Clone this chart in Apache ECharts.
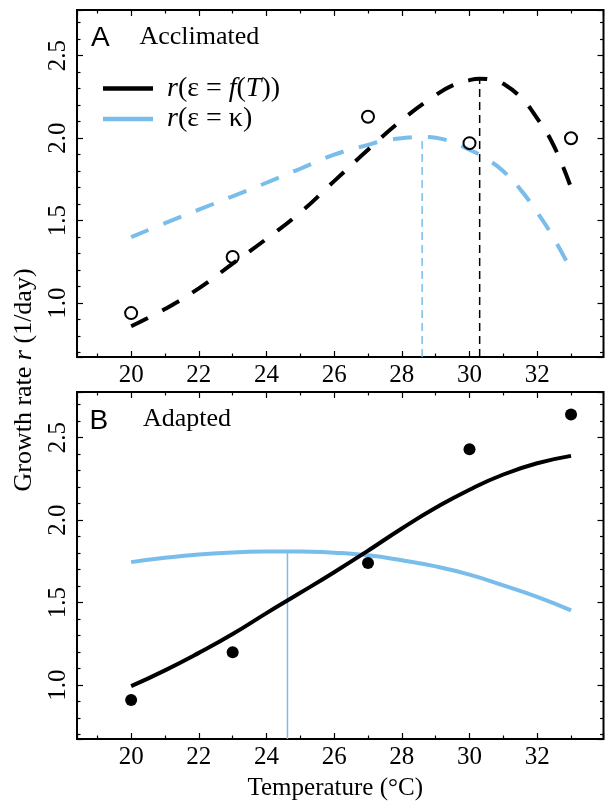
<!DOCTYPE html>
<html>
<head>
<meta charset="utf-8">
<script src="https://cdn.jsdelivr.net/npm/echarts@6/dist/echarts.min.js"></script>
<style>
  html, body { margin: 0; padding: 0; background: #fff; }
  #chart { width: 605px; height: 806px; }
</style>
</head>
<body>
<div id="chart"></div>
<script>
// Axis ranges shared by both panels
const tempRange = [18.4, 33.96];
const rateRange = [0.674, 2.777];

// Measured growth rates at the five culture temperatures
const obsTemps = [20, 23, 27, 30, 33];
const acclimatedObs = [0.94, 1.28, 2.13, 1.97, 2.00];
const adaptedObs = [0.91, 1.20, 1.74, 2.43, 2.64];

// Panel A: acclimated model curves
const accFTTemps = [20, 21, 22, 23, 24, 25, 26, 27, 28, 29, 29.5, 30, 30.3, 30.7, 31, 31.5, 32, 32.5, 33];
const accFTRates = [0.86, 0.965, 1.09, 1.24, 1.39, 1.55, 1.74, 1.93, 2.11, 2.26, 2.32, 2.352, 2.36, 2.352, 2.33, 2.25, 2.12, 1.95, 1.70];
const accKappaTemps = [20, 21, 22, 23, 24, 25, 26, 27, 27.5, 28, 28.6, 29.3, 30, 30.5, 31, 31.5, 32, 32.5, 33];
const accKappaRates = [1.40, 1.485, 1.567, 1.648, 1.73, 1.815, 1.90, 1.96, 1.985, 2.0, 2.007, 1.99, 1.93, 1.875, 1.80, 1.69, 1.55, 1.39, 1.20];
const accFTPeak = [30.3, 2.36];
const accKappaPeak = [28.6, 2.007];

// Panel B: adapted model curves
const adaFTTemps = [20, 21, 22, 23, 24, 25, 26, 27, 28, 29, 30, 31, 32, 33];
const adaFTRates = [0.994, 1.09, 1.196, 1.31, 1.437, 1.56, 1.685, 1.815, 1.95, 2.075, 2.185, 2.277, 2.345, 2.39];
const adaKappaTemps = [20, 21, 22, 23, 24, 24.62, 25, 26, 27, 28, 29, 30, 31, 32, 33];
const adaKappaRates = [1.746, 1.772, 1.792, 1.804, 1.81, 1.811, 1.81, 1.803, 1.787, 1.757, 1.72, 1.67, 1.605, 1.535, 1.454];
const adaKappaPeak = [24.62, 1.811];

const seriesNames = ['r(ε = f(T))', 'r(ε = κ)'];
const legendRich = {
  'r(ε = f(T))': '{i|r}(ε = {i|f}({i|T}))',
  'r(ε = κ)': '{i|r}(ε = κ)'
};

const SERIF = 'Liberation Serif';
const SANS = 'Liberation Sans';
const BLUE = '#79bdea';

const zip = (xs, ys) => xs.map((x, i) => [x, ys[i]]);
const dropLine = peak => [[peak[0], rateRange[0]], [peak[0], peak[1]]];

const tickStyle = { color: '#000', width: 1.2 };

function xAxisFor(grid, position, labels, name) {
  return {
    type: 'value', gridIndex: grid, position: position,
    min: tempRange[0], max: tempRange[1], splitNumber: 8,
    axisLine: { show: false },
    axisTick: { show: true, inside: true, length: 6, lineStyle: tickStyle },
    minorTick: { show: true, splitNumber: 2, length: 3.5, lineStyle: tickStyle },
    splitLine: { show: false }, minorSplitLine: { show: false },
    axisLabel: {
      show: labels, showMinLabel: false, showMaxLabel: false, margin: 6,
      color: '#000', fontFamily: SERIF, fontSize: 25
    },
    name: name || '', nameLocation: 'middle', nameGap: 37,
    nameTextStyle: { color: '#000', fontFamily: SERIF, fontSize: 25, padding: [0, 10, 0, 0] }
  };
}

function yAxisFor(grid, position, labels) {
  return {
    type: 'value', gridIndex: grid, position: position,
    min: rateRange[0], max: rateRange[1], splitNumber: 5,
    axisLine: { show: false },
    axisTick: { show: true, inside: true, length: 6, lineStyle: tickStyle },
    minorTick: { show: true, splitNumber: 5, length: 3.5, lineStyle: tickStyle },
    splitLine: { show: false }, minorSplitLine: { show: false },
    axisLabel: {
      show: labels, showMinLabel: false, showMaxLabel: false, margin: 6, rotate: 90,
      color: '#000', fontFamily: SERIF, fontSize: 25,
      formatter: v => v.toFixed(1)
    }
  };
}

function curve(name, xi, yi, temps, rates, color, dashed) {
  return {
    type: 'line', name: name, xAxisIndex: xi, yAxisIndex: yi,
    data: zip(temps, rates), showSymbol: false, smooth: 0.5,
    lineStyle: { color: color, width: 4, type: dashed ? [19, 16] : 'solid', cap: 'butt' },
    itemStyle: { color: color }, z: 3, silent: true
  };
}

function peakLine(xi, yi, peak, color, dashed) {
  return {
    type: 'line', xAxisIndex: xi, yAxisIndex: yi, data: dropLine(peak),
    showSymbol: false, lineStyle: { color: color, width: 1.5, type: dashed ? [8, 5] : 'solid' },
    z: 2, silent: true
  };
}

const chart = echarts.init(document.getElementById('chart'), null, { renderer: 'canvas' });

chart.setOption({
  animation: false,
  backgroundColor: '#fff',
  grid: [
    { left: 77, right: 1.5, top: 10, height: 347, show: true, borderColor: '#000', borderWidth: 2, outerBoundsMode: 'none' },
    { left: 77, right: 1.5, top: 392, height: 347, show: true, borderColor: '#000', borderWidth: 2, outerBoundsMode: 'none' }
  ],
  xAxis: [
    xAxisFor(0, 'bottom', true),
    xAxisFor(0, 'top', false),
    xAxisFor(1, 'bottom', true, 'Temperature (°C)'),
    xAxisFor(1, 'top', false)
  ],
  yAxis: [
    yAxisFor(0, 'left', true),
    yAxisFor(0, 'right', false),
    yAxisFor(1, 'left', true),
    yAxisFor(1, 'right', false)
  ],
  legend: {
    data: seriesNames, orient: 'vertical', left: 103, top: 74.5, padding: 0, itemGap: 2.5,
    icon: 'rect', itemWidth: 50, itemHeight: 4.5, selectedMode: false,
    formatter: n => legendRich[n],
    textStyle: {
      color: '#000', fontFamily: SERIF, fontSize: 28, padding: [0, 0, 0, 9],
      rich: { i: { fontStyle: 'italic', fontFamily: SERIF, fontSize: 28, color: '#000' } }
    }
  },
  graphic: [
    { type: 'text', x: 91, y: 38.5, style: { text: 'A', fontFamily: SANS, fontSize: 28, fill: '#000', verticalAlign: 'middle' } },
    { type: 'text', x: 139.5, y: 37.5, style: { text: 'Acclimated', fontFamily: SERIF, fontSize: 26, fill: '#000', verticalAlign: 'middle' } },
    { type: 'text', x: 89.5, y: 421.5, style: { text: 'B', fontFamily: SANS, fontSize: 28, fill: '#000', verticalAlign: 'middle' } },
    { type: 'text', x: 143, y: 419, style: { text: 'Adapted', fontFamily: SERIF, fontSize: 26, fill: '#000', verticalAlign: 'middle' } },
    {
      type: 'text', x: 24, y: 380, rotation: Math.PI / 2,
      style: {
        text: 'Growth rate {i|r} (1/day)', fontFamily: SERIF, fontSize: 26, fill: '#000',
        align: 'center', verticalAlign: 'middle',
        rich: { i: { fontStyle: 'italic', fontFamily: SERIF, fontSize: 26, fill: '#000' } }
      }
    }
  ],
  series: [
    // Panel A
    peakLine(0, 0, accFTPeak, '#000', true),
    peakLine(0, 0, accKappaPeak, BLUE, true),
    curve(seriesNames[1], 0, 0, accKappaTemps, accKappaRates, BLUE, true),
    curve(seriesNames[0], 0, 0, accFTTemps, accFTRates, '#000', true),
    {
      type: 'scatter', name: 'Acclimated', xAxisIndex: 0, yAxisIndex: 0,
      data: zip(obsTemps, acclimatedObs), symbol: 'circle', symbolSize: 12,
      itemStyle: { color: 'transparent', borderColor: '#000', borderWidth: 2, opacity: 1 }, z: 5, silent: true
    },
    // Panel B
    peakLine(2, 2, adaKappaPeak, BLUE, false),
    curve(seriesNames[1], 2, 2, adaKappaTemps, adaKappaRates, BLUE, false),
    curve(seriesNames[0], 2, 2, adaFTTemps, adaFTRates, '#000', false),
    {
      type: 'scatter', name: 'Adapted', xAxisIndex: 2, yAxisIndex: 2,
      data: zip(obsTemps, adaptedObs), symbol: 'circle', symbolSize: 12,
      itemStyle: { color: '#000', opacity: 1 }, z: 5, silent: true
    }
  ]
});
</script>
</body>
</html>
